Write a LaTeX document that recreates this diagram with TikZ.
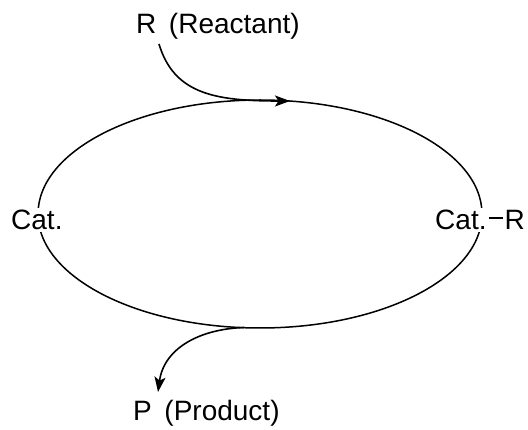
\documentclass[tikz,border=0pt]{standalone}
\usepackage{fontspec}
\setmainfont{Liberation Sans}
\usetikzlibrary{arrows.meta}
\begin{document}
\begin{tikzpicture}[x=1pt,y=-1pt,
  lbl/.style={font=\fontsize{28}{31}\selectfont, inner sep=0pt},
  cyc/.style={line width=1.5pt},
  flow/.style={line width=1.6pt,-{Stealth[length=15pt,width=11pt,inset=3.5pt]}}]
\useasboundingbox (0,0) rectangle (528,430);
\draw[cyc] (260,214) ellipse [x radius=222, y radius=114];
\node[lbl,anchor=base west] (react) at (136,34) {R\hspace{0.45em}(Reactant)};
\node[lbl,anchor=base west] (prod) at (133,421) {P\hspace{0.45em}(Product)};
\node[lbl,anchor=base west,fill=white,inner sep=2pt] (cat) at (9,230) {Cat.};
\node[lbl,anchor=base east,fill=white,inner sep=2pt] (catr) at (527,230) {Cat.\hspace{2pt}\rule[10.5pt]{14pt}{2.6pt}\hspace{2pt}R};
\coordinate (rs) at (159,44);
\coordinate (re) at (290,101);
\coordinate (ps) at (244,327.5);
\coordinate (pe) at (158,392);
\draw[flow] (rs) .. controls (174,94) and (215,101) .. (re);
\draw[flow] (ps) .. controls (200,329) and (164,348) .. (pe);
\end{tikzpicture}
\end{document}
